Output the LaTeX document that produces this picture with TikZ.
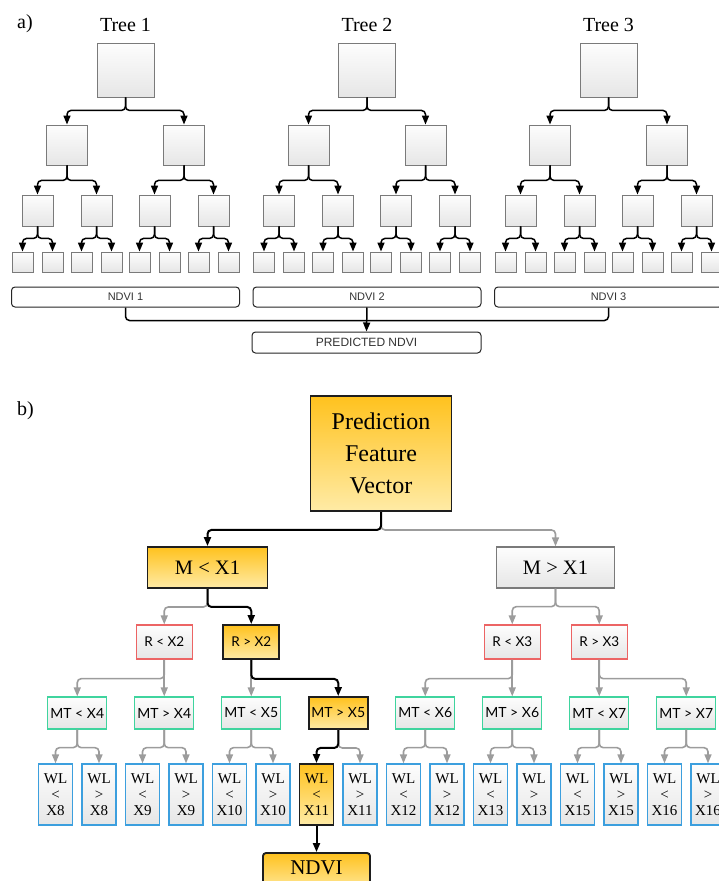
\documentclass[tikz,border=0pt]{standalone}
\usepackage{fontspec}
\setmainfont{Liberation Serif}
\newfontfamily\lato{Lato}
\newfontfamily\lsans{Liberation Sans}
\usetikzlibrary{arrows.meta}
\definecolor{boxgrey}{HTML}{7A7A7A}
\definecolor{linegrey}{HTML}{9C9C9C}
\definecolor{orangeT}{HTML}{FFC21E}
\definecolor{orangeB}{HTML}{FFEBA6}
\definecolor{redB}{HTML}{EC6464}
\definecolor{greenB}{HTML}{3FD49E}
\definecolor{blueB}{HTML}{3C9FDE}
\definecolor{fillT}{HTML}{FDFDFD}
\definecolor{fillB}{HTML}{E6E6E6}
\definecolor{hlborder}{HTML}{1E1E1E}
\begin{document}
\begin{tikzpicture}[x=1pt,y=-1pt,
  sz/.style n args={2}{minimum width=#1pt, minimum height=#2pt},
  abox/.style={draw=boxgrey, line width=0.9pt, top color=fillT, bottom color=fillB, inner sep=0pt},
  aconn/.style={draw=black, line width=1.5pt, rounded corners=4pt, -{Triangle[length=9pt,width=7pt]}},
  aline/.style={draw=black, line width=1.5pt, rounded corners=4pt},
  ndbox/.style={draw=black!85, line width=1pt, rounded corners=3.5pt, fill=white, inner sep=0pt, font=\lsans\fontsize{11}{12}\selectfont, text=black!80},
  cbox/.style={top color=fillT, bottom color=fillB, line width=1.3pt, inner sep=0pt},
  hbox/.style={draw=hlborder, line width=1.9pt, top color=orangeT, bottom color=orangeB, inner sep=0pt},
  mfont/.style={font=\fontsize{20.5}{24}\selectfont},
  rfont/.style={font=\lato\fontsize{13.5}{16}\selectfont},
  wfont/.style={font=\fontsize{15}{16}\selectfont, align=center},
  bconn/.style={draw=black, line width=2pt, rounded corners=4pt, -{Triangle[length=9pt,width=7pt]}},
  gconn/.style={draw=linegrey, line width=1.6pt, rounded corners=4pt, -{Triangle[length=9pt,width=7pt]}}
]
\useasboundingbox (0,0) rectangle (718,881);
% ---------------- part a ----------------
\node[anchor=base west, font=\fontsize{20}{24}\selectfont, inner sep=0pt] (lba) at (17,28) {a)};
\foreach \t/\cx in {1/125.5,2/367,3/608.5}{
  \node[font=\fontsize{20}{24}\selectfont] (tt\t) at (\cx,25) {Tree \t};
  \node[abox,sz={57}{54}] (r\t) at (\cx,70) {};
  \foreach \a/\da in {a/-58.5,b/58.5}{
    \node[abox,sz={41}{40}] (r\t\a) at ({\cx+\da},145) {};
    \draw[aconn] (r\t.south) -- ++(0,13) -| (r\t\a.north);
    \foreach \b/\db in {a/-29.5,b/29.5}{
      \node[abox,sz={31}{31}] (r\t\a\b) at ({\cx+\da+\db},210.5) {};
      \draw[aconn] (r\t\a.south) -- ++(0,15) -| (r\t\a\b.north);
      \foreach \c/\dc in {a/-15,b/15}{
        \node[abox,sz={21}{20}] (r\t\a\b\c) at ({\cx+\da+\db+\dc},262) {};
        \draw[aconn] (r\t\a\b.south) -- ++(0,12) -| (r\t\a\b\c.north);
      }
    }
  }
  \node[ndbox,sz={228}{20}] (nd\t) at (\cx,297) {NDVI \t};
}
\node[ndbox,sz={229}{21}, font=\lsans\fontsize{12}{14}\selectfont] (pred) at (366.5,342.5) {PREDICTED NDVI};
\draw[aline] (nd1.south) -- ++(0,13) -| (nd3.south);
\draw[aconn] (nd2.south) -- (pred.north);
% ---------------- part b ----------------
\node[anchor=base west, font=\fontsize{20}{24}\selectfont, inner sep=0pt] (lbb) at (17,415) {b)};
\node[hbox,sz={141}{115}, align=center, font=\fontsize{24}{32}\selectfont] (pfv) at (381,453.5) {Prediction\\Feature\\Vector};
\node[hbox,sz={120}{41},mfont] (m1) at (207.5,567.5) {M < X1};
\node[cbox,draw=boxgrey,sz={118}{41},mfont] (m2) at (555.5,567.5) {M > X1};
% R level
\node[cbox,draw=redB,sz={56}{34},rfont] (q1) at (164.25,642) {R < X2};
\node[hbox,sz={56}{34},rfont] (q2) at (251.25,642) {R > X2};
\node[cbox,draw=redB,sz={56}{34},rfont] (q3) at (512.25,642) {R < X3};
\node[cbox,draw=redB,sz={56}{34},rfont] (q4) at (599.25,642) {R > X3};
% MT level
\foreach \j/\lab in {0/MT < X4,1/MT > X4,2/MT < X5,4/MT < X6,5/MT > X6,6/MT < X7,7/MT > X7}{
  \node[cbox,draw=greenB,sz={59}{32},font=\lato\fontsize{14}{16}\selectfont] (mt\j) at ({77.25+87*\j},713) {\lab};
}
\node[hbox,sz={59}{32},font=\lato\fontsize{14}{16}\selectfont] (mt3) at ({77.25+87*3},713) {MT > X5};
% WL level
\foreach \i/\op/\xv in {0/</X8,1/>/X8,2/</X9,3/>/X9,4/</X10,5/>/X10,7/>/X11,8/</X12,9/>/X12,10/</X13,11/>/X13,12/</X15,13/>/X15,14/</X16,15/>/X16}{
  \node[cbox,draw=blueB,sz={34}{61},wfont] (wl\i) at ({55.5+43.5*\i},794.5) {WL\\\op\\\xv};
}
\node[hbox,sz={34}{61},wfont] (wl6) at ({55.5+43.5*6},794.5) {WL\\<\\X11};
\node[hbox,rounded corners=3pt,sz={107}{40},font=\fontsize{21}{24}\selectfont,text height=14pt,text depth=12pt] (ndvi) at ({55.5+43.5*6},873) {NDVI};
% connectors part b
\draw[gconn] (pfv.south) -- ++(0,18) -| (m2.north);
\draw[bconn] (pfv.south) -- ++(0,18) -| (m1.north);
\draw[gconn] (m1.south) -- ++(0,18) -| (q1.north);
\draw[bconn] (m1.south) -- ++(0,18) -| (q2.north);
\draw[gconn] (m2.south) -- ++(0,18) -| (q3.north);
\draw[gconn] (m2.south) -- ++(0,18) -| (q4.north);
\draw[gconn] (q1.south) -- ++(0,19) -| (mt0.north);
\draw[gconn] (q1.south) -- (mt1.north);
\draw[gconn] (q2.south) -- (mt2.north);
\draw[bconn] (q2.south) -- ++(0,19) -| (mt3.north);
\draw[gconn] (q3.south) -- ++(0,19) -| (mt4.north);
\draw[gconn] (q3.south) -- (mt5.north);
\draw[gconn] (q4.south) -- (mt6.north);
\draw[gconn] (q4.south) -- ++(0,19) -| (mt7.north);
\foreach \j/\p/\q in {0/0/1,1/2/3,2/4/5,4/8/9,5/10/11,6/12/13,7/14/15}{
  \draw[gconn] (mt\j.south) -- ++(0,18) -| (wl\p.north);
  \draw[gconn] (mt\j.south) -- ++(0,18) -| (wl\q.north);
}
\draw[gconn] (mt3.south) -- ++(0,18) -| (wl7.north);
\draw[bconn] (mt3.south) -- ++(0,18) -| (wl6.north);
\draw[bconn] (wl6.south) -- (ndvi.north);
\end{tikzpicture}
\end{document}
